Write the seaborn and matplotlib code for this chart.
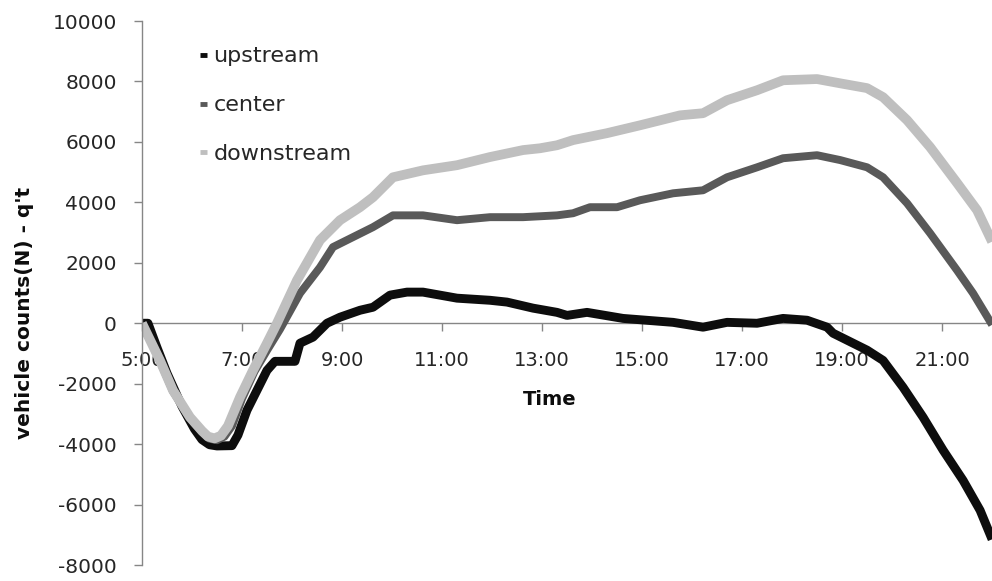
import numpy as np
import pandas as pd
import matplotlib
matplotlib.use("Agg")
import matplotlib.pyplot as plt
import seaborn as sns

# ---- data (hours of day, vehicle counts) ----
up_t = [5.0, 5.12, 5.3, 5.5, 5.8, 6.05, 6.2, 6.35, 6.5, 6.8, 6.92, 7.1, 7.5, 7.66, 8.06,
        8.16, 8.42, 8.7, 8.96, 9.36, 9.62, 9.96, 10.3, 10.62, 11.3, 11.96, 12.3, 12.82,
        13.3, 13.5, 13.9, 14.62, 15.62, 16.22, 16.7, 17.3, 17.82, 18.3, 18.7, 18.82, 19.5,
        19.82, 20.22, 20.62, 21.02, 21.42, 21.76, 22.0]
up_v = [0, 0, -800, -1650, -2750, -3500, -3850, -4020, -4060, -4050, -3700, -2880, -1560,
        -1260, -1260, -660, -460, 0, 200, 430, 530, 930, 1030, 1030, 830, 760, 700, 500,
        360, 260, 360, 160, 30, -130, 30, 0, 160, 100, -130, -330, -890, -1230, -2120,
        -3110, -4200, -5200, -6190, -7150]

ce_t = [5.0, 5.36, 5.62, 5.96, 6.2, 6.35, 6.5, 6.65, 6.8, 7.0, 7.25, 7.5, 7.76, 8.16, 8.56,
        8.82, 9.22, 9.62, 10.02, 10.62, 11.3, 11.96, 12.62, 13.3, 13.62, 13.96, 14.5, 14.96,
        15.62, 16.22, 16.7, 17.3, 17.82, 18.5, 18.96, 19.5, 19.82, 20.3, 20.76, 21.3,
        21.62, 22.0]
ce_v = [0, -1250, -2250, -3150, -3600, -3820, -3870, -3750, -3400, -2500, -1600, -900,
        -200, 990, 1850, 2520, 2850, 3180, 3570, 3570, 3410, 3510, 3510, 3570, 3640, 3840,
        3840, 4070, 4300, 4400, 4830, 5160, 5460, 5560, 5400, 5160, 4830, 3970, 2980, 1750,
        990, -50]

dn_t = [5.0, 5.36, 5.62, 5.96, 6.2, 6.32, 6.45, 6.58, 6.72, 6.96, 7.22, 7.5, 7.7, 8.1, 8.56,
        8.96, 9.36, 9.62, 10.02, 10.62, 11.3, 11.96, 12.62, 12.96, 13.3, 13.62, 14.3, 14.96,
        15.76, 16.22, 16.7, 17.3, 17.82, 18.5, 18.96, 19.5, 19.82, 20.3, 20.76, 21.3,
        21.7, 22.0]
dn_v = [0, -1230, -2220, -3110, -3560, -3750, -3810, -3720, -3400, -2450, -1560, -660, 0,
        1420, 2750, 3410, 3840, 4170, 4830, 5060, 5230, 5500, 5730, 5790, 5890, 6060, 6290,
        6550, 6880, 6950, 7380, 7710, 8040, 8080, 7940, 7780, 7480, 6720, 5830, 4640, 3740,
        2700]

series = ["upstream", "center", "downstream"]
colors = {"upstream": "#0d0d0d", "center": "#595959", "downstream": "#bfbfbf"}
widths = {"upstream": 6.4, "center": 5.7, "downstream": 7.0}
x_ticks = [5, 7, 9, 11, 13, 15, 17, 19, 21]
x_labels = ["5:00", "7:00", "9:00", "11:00", "13:00", "15:00", "17:00", "19:00", "21:00"]
y_ticks = list(range(-8000, 10001, 2000))
y_min, y_max = -8000, 10000

df = pd.concat([
    pd.DataFrame({"t": up_t, "v": up_v, "s": "upstream"}),
    pd.DataFrame({"t": ce_t, "v": ce_v, "s": "center"}),
    pd.DataFrame({"t": dn_t, "v": dn_v, "s": "downstream"}),
], ignore_index=True)

sns.set_style("white")
plt.rcParams["font.family"] = ["DejaVu Sans"]

fig = plt.figure(figsize=(9.92, 5.81), dpi=100)
ax = fig.add_axes([0.1431, 0.0275, 0.857, 0.9363])

# horizontal axis line at y = 0 (under the data lines)
ax.axhline(0, color="#868686", lw=1.0, zorder=0.5)

for s in series:
    sns.lineplot(data=df[df["s"] == s], x="t", y="v", ax=ax, color=colors[s],
                 lw=widths[s], sort=False, label=s, estimator=None,
                 solid_capstyle="butt", solid_joinstyle="round")

ax.set_xlim(5, 22)
ax.set_ylim(y_min, y_max)
ax.set_yticks(y_ticks)
ax.set_yticklabels([str(v) for v in y_ticks])
ax.set_xticks([])

for sp in ["top", "right", "bottom"]:
    ax.spines[sp].set_visible(False)
ax.spines["left"].set_color("#868686")
ax.spines["left"].set_linewidth(1.0)
ax.tick_params(axis="y", which="major", left=True, direction="out", length=6,
               width=1, color="#868686", pad=12, labelsize=14.5, labelcolor="#262626")

# x axis crossing at y = 0
zero_frac = (0 - y_min) / (y_max - y_min)
sec = ax.secondary_xaxis(zero_frac)
sec.set_xticks(x_ticks)
sec.set_xticklabels(x_labels)
sec.spines["bottom"].set_visible(False)
sec.tick_params(axis="x", which="major", bottom=True, top=False, direction="out",
                length=6, width=1, color="#868686", pad=14, labelsize=14,
                labelcolor="#262626")

ax.set_xlabel("Time", fontsize=14, fontweight="bold", color="#0d0d0d")
ax.xaxis.set_label_coords(0.48, 0.322)
ax.set_ylabel("vehicle counts(N) - q't", fontsize=14.5, fontweight="bold", color="#0d0d0d")
ax.yaxis.set_label_coords(-0.127, 0.463)

leg = ax.legend(loc="upper left", bbox_to_anchor=(0.045, 0.99), frameon=False,
                handlelength=0.3, handletextpad=0.3, labelspacing=1.3, fontsize=16)
for h in leg.get_lines():
    h.set_linewidth(3.5)
for t in leg.get_texts():
    t.set_color("#262626")

fig.savefig("out.png", dpi=100)
